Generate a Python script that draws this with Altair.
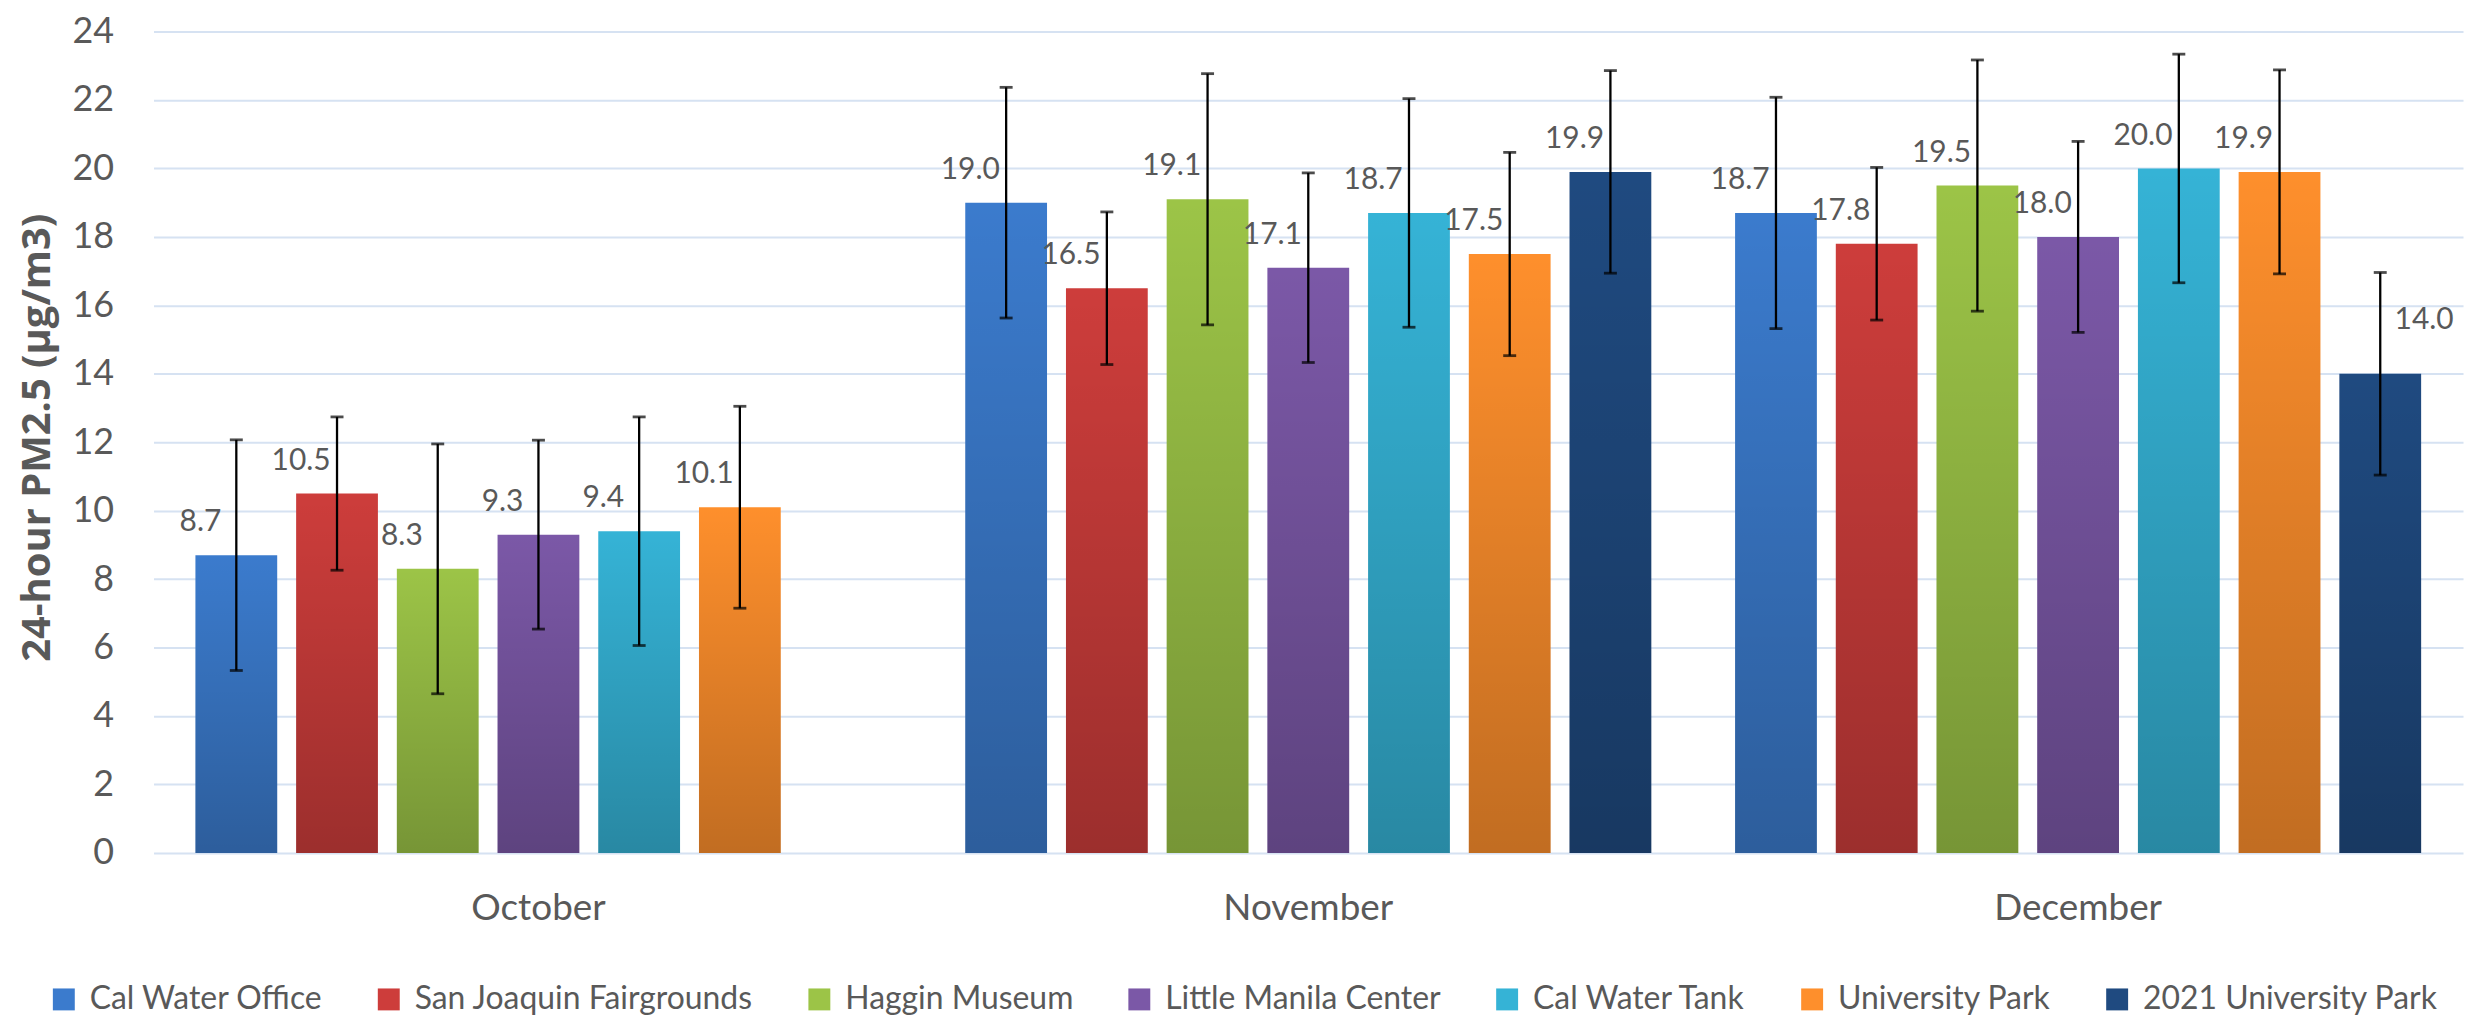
import altair as alt
import pandas as pd

# ---- data ----
months = ["October", "November", "December"]
series = [
    "Cal Water Office",
    "San Joaquin Fairgrounds",
    "Haggin Museum",
    "Little Manila Center",
    "Cal Water Tank",
    "University Park",
    "2021 University Park",
]
colors = ["#3b7bcd", "#cd3d3b", "#9cc447", "#7b58a7", "#35b3d6", "#fe8f2c", "#1f4a80"]

cal_water_office = [8.7, 19.0, 18.7]
san_joaquin_fairgrounds = [10.5, 16.5, 17.8]
haggin_museum = [8.3, 19.1, 19.5]
little_manila_center = [9.3, 17.1, 18.0]
cal_water_tank = [9.4, 18.7, 20.0]
university_park = [10.1, 17.5, 19.9]
university_park_2021 = [None, 19.9, 14.0]

err_cal_water_office = [3.37, 3.37, 3.38]
err_san_joaquin_fairgrounds = [2.24, 2.23, 2.23]
err_haggin_museum = [3.65, 3.67, 3.67]
err_little_manila_center = [2.76, 2.77, 2.79]
err_cal_water_tank = [3.34, 3.34, 3.34]
err_university_park = [2.95, 2.97, 2.98]
err_university_park_2021 = [None, 2.96, 2.96]

values = [cal_water_office, san_joaquin_fairgrounds, haggin_museum, little_manila_center,
          cal_water_tank, university_park, university_park_2021]
errors = [err_cal_water_office, err_san_joaquin_fairgrounds, err_haggin_museum,
          err_little_manila_center, err_cal_water_tank, err_university_park,
          err_university_park_2021]

rows = []
for s, vals, errs in zip(series, values, errors):
    for m, v, e in zip(months, vals, errs):
        if v is None:
            continue
        rows.append({"month": m, "series": s, "mean": v, "lo": v - e, "hi": v + e})
df = pd.DataFrame(rows)

YTITLE = "24-hour PM2.5 (µg/m3)"
GRAY = "#595959"
PLOT_W, PLOT_H = 2317, 824

x_enc = alt.X(
    "month:N", sort=months, title=None,
    scale=alt.Scale(paddingInner=0, paddingOuter=0),
    axis=alt.Axis(labelFont="Lato", labelFontSize=37, labelColor=GRAY, labelPadding=38,
                  domain=False, ticks=False, grid=False, labelAngle=0),
)
xoff_enc = alt.XOffset(
    "series:N", sort=series,
    scale=alt.Scale(domain=series, paddingInner=0.188, paddingOuter=0.416),
)
y_scale = alt.Scale(domain=[0, 24], nice=False, zero=True)
y_axis = alt.Axis(values=list(range(0, 25, 2)), format="d", labelFont="Lato", labelFontSize=36,
                  labelColor=GRAY, labelPadding=40, domain=False, ticks=False,
                  grid=True, gridColor="#d6e2f2", gridWidth=2,
                  titleFont="Open Sans", titleFontWeight="bold", titleFontSize=40,
                  titleColor=GRAY, titleAngle=-90, titleX=-116, titleY=PLOT_H / 2 - 5,
                  titleAlign="center", titleBaseline="middle")

base = alt.Chart(df).encode(x=x_enc, xOffset=xoff_enc)

bars = base.mark_bar().encode(
    y=alt.Y("mean:Q", scale=y_scale, axis=y_axis, title=YTITLE),
    color=alt.Color(
        "series:N", sort=series,
        scale=alt.Scale(domain=series, range=colors),
        legend=alt.Legend(
            title=None, orient="none", direction="horizontal", legendX=-106, legendY=955,
            symbolType="square", symbolSize=484, symbolStrokeWidth=0,
            labelFont="Lato", labelFontSize=32, labelColor=GRAY, labelOffset=10,
            columnPadding=50, labelLimit=600,
        ),
    ),
)

shade = base.mark_bar(
    color={
        "gradient": "linear", "x1": 0, "y1": 0, "x2": 0, "y2": 1,
        "stops": [
            {"offset": 0, "color": "rgba(0,0,0,0)"},
            {"offset": 1, "color": "rgba(0,0,0,0.24)"},
        ],
    }
).encode(y=alt.Y("mean:Q", scale=y_scale, title=YTITLE))

err_rule = base.mark_rule(color="black", strokeWidth=2.3).encode(
    y=alt.Y("lo:Q", scale=y_scale, title=YTITLE), y2="hi:Q"
)
cap_lo = base.mark_tick(color="black", thickness=2.8, size=13).encode(
    y=alt.Y("lo:Q", scale=y_scale, title=YTITLE)
)
cap_hi = base.mark_tick(color="black", thickness=2.8, size=13).encode(
    y=alt.Y("hi:Q", scale=y_scale, title=YTITLE)
)

special = "datum.series === '2021 University Park' && datum.month === 'December'"
labels = base.mark_text(dx=-36, dy=-33, font="Lato", fontSize=30, color=GRAY).encode(
    y=alt.Y("mean:Q", scale=y_scale, title=YTITLE),
    text=alt.Text("mean:Q", format=".1f"),
).transform_filter("!(" + special + ")")
labels_r = base.mark_text(dx=44, dy=-54, font="Lato", fontSize=30, color=GRAY).encode(
    y=alt.Y("mean:Q", scale=y_scale, title=YTITLE),
    text=alt.Text("mean:Q", format=".1f"),
).transform_filter(special)

chart = alt.layer(bars, shade, err_rule, cap_lo, cap_hi, labels, labels_r).properties(
    width=PLOT_W, height=PLOT_H,
    autosize=alt.AutoSizeParams(type="none"),
    padding={"left": 146, "top": 22, "right": 8, "bottom": 165},
    background="white",
).configure_view(stroke=None)

chart.save("out.html", embed_options={"renderer": "svg", "actions": False})
